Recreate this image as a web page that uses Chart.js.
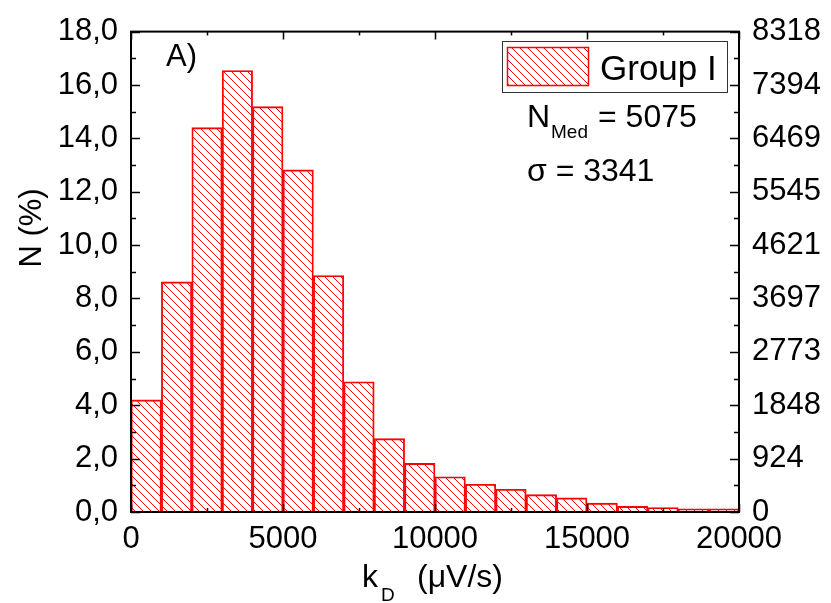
<!DOCTYPE html>
<html>
<head>
<meta charset="utf-8">
<script src="https://cdn.jsdelivr.net/npm/chart.js@4"></script>
<style>
  body { margin: 0; background: #fff; }
  #wrap { width: 831px; height: 603px; }
</style>
</head>
<body>
<div id="wrap"><canvas id="hist"></canvas></div>
<script>
// bin centres (µV/s) and share of events per bin (%)
const binCentres = [500, 1500, 2500, 3500, 4500, 5500, 6500, 7500, 8500, 9500,
  10500, 11500, 12500, 13500, 14500, 15500, 16500, 17500, 18500, 19500];
const percent = [4.2, 8.62, 14.4, 16.54, 15.19, 12.82, 8.86, 4.88, 2.75, 1.82,
  1.32, 1.04, 0.85, 0.65, 0.53, 0.33, 0.21, 0.17, 0.12, 0.12];
// right axis: absolute counts
const countLabels = ['0', '924', '1848', '2773', '3697', '4621', '5545', '6469', '7394', '8318'];

const FONT = 'Liberation Sans, Arial, sans-serif';
const RED = '#ff0000';

// diagonal hatch fill (\\\), one pixel wide
function hatch(color) {
  const c = document.createElement('canvas');
  c.width = 8; c.height = 8;
  const g = c.getContext('2d');
  g.fillStyle = color;
  for (let i = 0; i < 8; i++) g.fillRect(i, i, 1, 1);
  return g.createPattern(c, 'repeat');
}
const hatchFill = hatch(RED);

// frame, inward ticks, titles, legend and text notes
const decor = {
  id: 'decor',
  afterDraw(chart) {
    const ctx = chart.ctx;
    const a = chart.chartArea;
    const x = chart.scales.x, y = chart.scales.y;
    ctx.save();
    ctx.strokeStyle = '#000';
    ctx.lineWidth = 2;
    ctx.strokeRect(a.left, a.top, a.right - a.left, a.bottom - a.top);

    ctx.lineWidth = 1.5;
    ctx.beginPath();
    for (let v = 0; v <= 18; v++) {
      const py = Math.round(y.getPixelForValue(v)) + 0.5;
      const len = v % 2 === 0 ? 9 : 5;
      ctx.moveTo(a.left, py); ctx.lineTo(a.left + len, py);
      ctx.moveTo(a.right, py); ctx.lineTo(a.right - len, py);
    }
    for (let v = 0; v <= 20000; v += 2500) {
      const px = Math.round(x.getPixelForValue(v)) + 0.5;
      const len = v % 5000 === 0 ? 8 : 4;
      ctx.moveTo(px, a.bottom); ctx.lineTo(px, a.bottom - len);
      ctx.moveTo(px, a.top); ctx.lineTo(px, a.top + len);
    }
    ctx.stroke();

    ctx.fillStyle = '#000';
    ctx.textBaseline = 'alphabetic';
    ctx.textAlign = 'left';

    // y title
    ctx.save();
    ctx.translate(41, 228);
    ctx.rotate(-Math.PI / 2);
    ctx.textAlign = 'center';
    ctx.font = '31px ' + FONT;
    ctx.fillText('N (%)', 0, 0);
    ctx.restore();

    // x title with subscript
    ctx.font = '32px ' + FONT;
    ctx.fillText('k', 362, 587);
    ctx.font = '19px ' + FONT;
    ctx.fillText('D', 381, 601);
    ctx.font = '32px ' + FONT;
    ctx.fillText('(\u03bcV/s)', 417, 587);

    // panel tag
    ctx.font = '31px ' + FONT;
    ctx.fillText('A)', 166, 66);

    // legend
    ctx.lineWidth = 1;
    ctx.strokeStyle = '#333';
    ctx.strokeRect(502.5, 41.5, 225, 51);
    ctx.fillStyle = hatchFill;
    ctx.fillRect(507, 47, 82, 39);
    ctx.strokeStyle = RED;
    ctx.lineWidth = 1.5;
    ctx.strokeRect(507.5, 47.5, 81, 38);
    ctx.fillStyle = '#000';
    ctx.font = '35px ' + FONT;
    ctx.fillText('Group I', 600, 80);

    // stats
    ctx.font = '32px ' + FONT;
    ctx.fillText('N', 527, 127);
    ctx.font = '19px ' + FONT;
    ctx.fillText('Med', 551, 138);
    ctx.font = '32px ' + FONT;
    ctx.fillText('= 5075', 598, 127);
    ctx.fillText('\u03c3 = 3341', 527, 181);
    ctx.restore();
  }
};

new Chart(document.getElementById('hist'), {
  type: 'bar',
  plugins: [decor],
  data: {
    labels: binCentres,
    datasets: [{
      label: 'Group I',
      data: binCentres.map((c, i) => ({ x: c, y: percent[i] })),
      backgroundColor: hatchFill,
      borderColor: RED,
      borderWidth: 1.2,
      barPercentage: 1,
      categoryPercentage: 1,
      yAxisID: 'y'
    }]
  },
  options: {
    responsive: true,
    maintainAspectRatio: false,
    animation: false,
    layout: { padding: { top: 25, left: 0, right: 0, bottom: 0 } },
    plugins: { legend: { display: false }, tooltip: { enabled: false } },
    scales: {
      x: {
        type: 'linear',
        min: 0, max: 20000,
        offset: false,
        grid: { display: false, drawTicks: false },
        border: { display: false },
        ticks: {
          stepSize: 5000,
          color: '#000',
          font: { family: FONT, size: 31 },
          padding: 9,
          maxRotation: 0,
          callback: v => String(v)
        },
        afterFit: s => { s.height = 91; }
      },
      y: {
        position: 'left',
        min: 0, max: 18,
        grid: { display: false, drawTicks: false },
        border: { display: false },
        ticks: {
          stepSize: 2,
          color: '#000',
          font: { family: FONT, size: 31 },
          padding: 13,
          callback: v => v.toFixed(1).replace('.', ',')
        },
        afterFit: s => { s.width = 131; }
      },
      y2: {
        position: 'right',
        min: 0, max: 18,
        grid: { display: false, drawTicks: false },
        border: { display: false },
        ticks: {
          stepSize: 2,
          color: '#000',
          font: { family: FONT, size: 31 },
          padding: 13,
          callback: (v, i) => countLabels[i]
        },
        afterFit: s => { s.width = 92; }
      }
    }
  }
});
</script>
</body>
</html>
